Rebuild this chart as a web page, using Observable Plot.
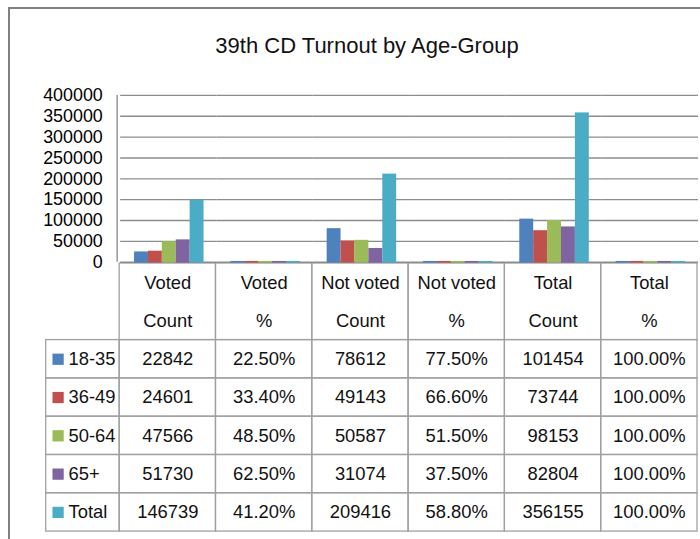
<!DOCTYPE html>
<html>
<head>
<meta charset="utf-8">
<script src="https://cdn.jsdelivr.net/npm/d3@7"></script>
<script src="https://cdn.jsdelivr.net/npm/@observablehq/plot@0.6"></script>
<style>
  html, body { margin: 0; padding: 0; background: #fff; }
  body { width: 700px; height: 539px; overflow: hidden; position: relative; font-family: "Liberation Sans", Arial, sans-serif; }
  #frame { position: absolute; left: 8px; top: 7px; width: 760px; height: 600px; border-left: 2px solid #808080; border-top: 2px solid #808080; }
  #title { position: absolute; left: 0; top: 35px; width: 734px; text-align: center; font-size: 22px; line-height: 22px; color: #111; }
  #chart { position: absolute; left: 0; top: 85px; }
  #table { position: absolute; left: 0; top: 263px; }
</style>
</head>
<body>
<div id="frame"></div>
<div id="title">39th CD Turnout by Age-Group</div>
<div id="table"></div>
<div id="chart"></div>
<script>
// ---- data ----
const categories = ["Voted Count", "Voted %", "Not voted Count", "Not voted %", "Total Count", "Total %"];
const headerLine1 = ["Voted", "Voted", "Not voted", "Not voted", "Total", "Total"];
const headerLine2 = ["Count", "%", "Count", "%", "Count", "%"];
const groups = ["18-35", "36-49", "50-64", "65+", "Total"];
const colors = ["#4F81BD", "#C0504D", "#9BBB59", "#8064A2", "#4BACC6"];
const votedCount = [22842, 24601, 47566, 51730, 146739];
const votedPct = [0.225, 0.334, 0.485, 0.625, 0.412];
const notVotedCount = [78612, 49143, 50587, 31074, 209416];
const notVotedPct = [0.775, 0.666, 0.515, 0.375, 0.588];
const totalCount = [101454, 73744, 98153, 82804, 356155];
const totalPct = [1, 1, 1, 1, 1];
const yTicks = [0, 50000, 100000, 150000, 200000, 250000, 300000, 350000, 400000];

const series = [votedCount, votedPct, notVotedCount, notVotedPct, totalCount, totalPct];
const isPct = [false, true, false, true, false, true];
const pctFmt = d3.format(".2%");

const cells = [];
categories.forEach((c, ci) => {
  groups.forEach((g, gi) => {
    const v = series[ci][gi];
    cells.push({category: c, group: g, value: v, row: gi + 2, label: isPct[ci] ? pctFmt(v) : String(v)});
  });
});
const headers = categories.map((c, i) => ({category: c, l1: headerLine1[i], l2: headerLine2[i]}));

const W = 705, ML = 118;
const band = (W - ML) / categories.length;
const gridColor = "#8c8c8c";
const tableLine = "#a0a0a0";
const font = "'Liberation Sans', Arial, sans-serif";

// ---- chart ----
const chart = Plot.plot({
  width: W, height: 178,
  marginTop: 10, marginBottom: 0, marginLeft: ML, marginRight: 0,
  style: {fontFamily: font, fontSize: "18px", color: "#000", background: "transparent", overflow: "visible"},
  fx: {domain: categories, padding: 0, axis: null},
  x: {domain: groups, paddingInner: 0, paddingOuter: 0.75, axis: null},
  y: {domain: [0, 400000], ticks: yTicks, tickSize: 0, tickPadding: 18, tickFormat: d => String(d), label: null},
  color: {domain: groups, range: colors},
  marks: [
    Plot.ruleY(yTicks, {stroke: gridColor, strokeWidth: 1.4}),
    Plot.barY(cells, {fx: "category", x: "group", y: "value", fill: "group", stroke: "group", strokeWidth: 1.6, insetLeft: 0.8, insetRight: 0.8})
  ]
});
document.getElementById("chart").appendChild(chart);
// y axis line (left edge of plot area)
{
  const svg = d3.select(chart);
  svg.append("line").attr("x1", ML).attr("x2", ML).attr("y1", 10).attr("y2", 178)
    .attr("stroke", gridColor).attr("stroke-width", 1.4);
}

// ---- data table ----
const table = Plot.plot({
  width: W, height: 276,
  marginTop: 0, marginBottom: 6, marginLeft: ML - band, marginRight: 0,
  style: {fontFamily: font, fontSize: "18px", color: "#111", background: "transparent", overflow: "visible"},
  x: {domain: ["legend", ...categories], padding: 0, axis: null},
  y: {domain: [0, 7], reverse: true, axis: null},
  color: {domain: groups, range: colors},
  marks: [
    Plot.barY(headers, {x: "category", y1: 0, y2: 2, fill: "none", stroke: tableLine, strokeWidth: 1.3}),
    Plot.barY(cells, {x: "category", y1: "row", y2: d => d.row + 1, fill: "none", stroke: tableLine, strokeWidth: 1.3}),
    Plot.barY(groups, {x: () => "legend", y1: (d, i) => i + 2, y2: (d, i) => i + 3, fill: "none", stroke: tableLine, strokeWidth: 1.3, insetLeft: 23}),
    Plot.text(headers, {x: "category", y: 0.5, text: "l1", fill: "#111", fontSize: 18.5}),
    Plot.text(headers, {x: "category", y: 1.5, text: "l2", fill: "#111", fontSize: 18.5}),
    Plot.text(cells, {x: "category", y: d => d.row + 0.5, text: "label", fill: "#111", fontSize: 18.5}),
    Plot.dot(groups, {x: () => "legend", y: (d, i) => i + 2.5, symbol: "square", r: 6.4, fill: d => d, stroke: "none", dx: -13.5}),
    Plot.text(groups, {x: () => "legend", y: (d, i) => i + 2.5, text: d => d, textAnchor: "start", dx: -3, fill: "#111", fontSize: 18.5})
  ]
});
document.getElementById("table").appendChild(table);
</script>
</body>
</html>
